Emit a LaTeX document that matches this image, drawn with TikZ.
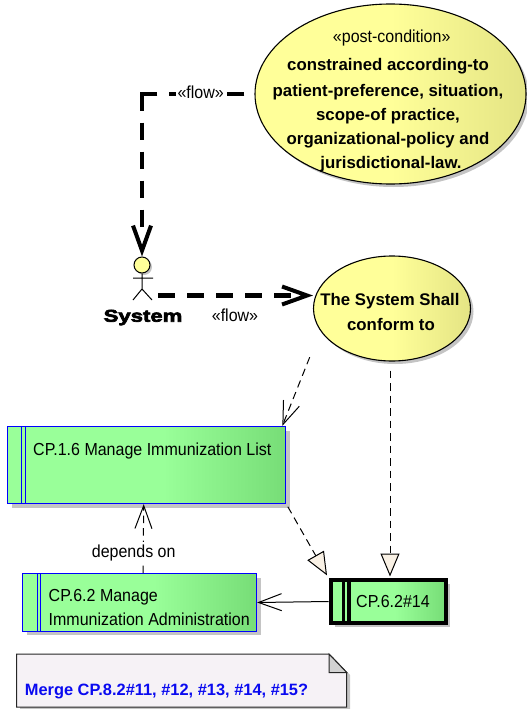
\documentclass[tikz,border=0pt]{standalone}
\usepackage{fontspec}
\setmainfont{Liberation Sans}
\newfontfamily\heavyfont[FakeBold=4,FakeStretch=1.3]{Liberation Sans Bold}
\newfontfamily\regfont[FakeStretch=0.92]{Liberation Sans}
\usetikzlibrary{arrows.meta,shapes.geometric,shadows,calc}
\definecolor{yA}{HTML}{FFFF99}
\definecolor{yB}{HTML}{E4E484}
\definecolor{gA}{HTML}{99FF99}
\definecolor{gB}{HTML}{77DD77}
\definecolor{shadowgray}{HTML}{C4C4C4}
\definecolor{tipfill}{HTML}{F9F1E5}
\definecolor{notefill}{HTML}{F6F2F6}
\definecolor{earfill}{HTML}{D2D2D2}
\definecolor{reqblue}{HTML}{0A0AF0}
\pgfdeclarehorizontalshading{yellowh}{100bp}{color(0bp)=(yA); color(50bp)=(yA); color(75bp)=(yB); color(100bp)=(yB)}
\pgfdeclarehorizontalshading{greenh}{100bp}{color(0bp)=(gA); color(53bp)=(gA); color(75bp)=(gB); color(100bp)=(gB)}
\tikzset{
  x=1pt,y=-1pt,
  softshadow/.style={general shadow={shadow xshift=#1,shadow yshift=-#1,fill=shadowgray}},
  usecase/.style={ellipse,draw=black,line width=1.1pt,shading=yellowh,inner sep=0pt,softshadow=3pt},
  reqbox/.style={rectangle,draw=blue,line width=1.3pt,shading=greenh,inner sep=0pt,softshadow=4pt},
  stripeblue/.style={draw=blue,line width=1.2pt},
  stripeblack/.style={draw=black,line width=3.4pt},
  txt/.style={inner sep=0pt,anchor=base,font=\fontsize{17.4}{17.4}\regfont},
  txtl/.style={inner sep=0pt,anchor=base west,font=\fontsize{17.4}{17.4}\regfont},
  btxt/.style={inner sep=0pt,anchor=base,font=\fontsize{16.8}{16.8}\selectfont\bfseries},
  flowline/.style={line width=4.4pt,dash pattern=on 17pt off 12pt},
  cornerflow/.style={line width=4.4pt,dash pattern=on 17pt off 12pt on 17pt off 12pt on 17pt off 12pt on 32pt off 12pt on 17pt off 12pt on 17pt off 12pt on 17pt off 12pt on 17pt off 60pt},
  thinflow/.style={line width=1pt,dash pattern=on 7.5pt off 5pt},
  vthick/.style={-{Straight Barb[length=25pt,width=18pt,line width=4pt]}},
  vthin/.style={-{Straight Barb[length=23pt,width=17pt,line width=1pt]}},
  hollow/.style={-{Triangle[length=23pt,width=19pt,fill=tipfill,line width=1pt]}},
}
\begin{document}
\begin{tikzpicture}
\useasboundingbox (0,0) rectangle (527,709);

% use cases
\node[usecase,minimum width=271pt,minimum height=180pt] (e1) at (390.5,94) {};
\node[usecase,minimum width=157pt,minimum height=105pt] (e2) at (392,308.5) {};

% requirement boxes
\node[reqbox,minimum width=278pt,minimum height=77pt] (r1) at (146.7,465) {};
\draw[stripeblue] ([xshift=14.5pt]r1.north west) -- ([xshift=14.5pt]r1.south west);
\draw[stripeblue] ([xshift=18.5pt]r1.north west) -- ([xshift=18.5pt]r1.south west);
\node[reqbox,minimum width=234pt,minimum height=57.5pt] (r2) at (139.5,602.5) {};
\draw[stripeblue] ([xshift=15.3pt]r2.north west) -- ([xshift=15.3pt]r2.south west);
\draw[stripeblue] ([xshift=18.7pt]r2.north west) -- ([xshift=18.7pt]r2.south west);
\node[rectangle,draw=black,line width=4pt,shading=greenh,inner sep=0pt,softshadow=4pt,minimum width=115pt,minimum height=43pt] (r3) at (388,601.5) {};
\draw[stripeblack] ([xshift=14.8pt]r3.north west) -- ([xshift=14.8pt]r3.south west);
\draw[stripeblack] ([xshift=20.5pt]r3.north west) -- ([xshift=20.5pt]r3.south west);

% note
\fill[shadowgray] (20,657) -- (333,657) -- (350,675) -- (350,710) -- (20,710) -- cycle;
\draw[fill=notefill,line width=1pt,draw=black!85] (16.7,654) -- (329,654) -- (346.7,672.5) -- (346.7,707) -- (16.7,707) -- cycle;
\draw[fill=earfill,line width=1pt,draw=black!85] (329,654) -- (346.7,672.5) -- (329,672.5) -- cycle;
\node[inner sep=0pt,anchor=base west,text=reqblue,font=\fontsize{16.4}{16.4}\selectfont\bfseries] (notetext) at (24.7,695.7) {Merge CP.8.2\#11, \#12, \#13, \#14, \#15?};

% actor
\fill[shadowgray] (144,267) circle[radius=8pt];
\node[circle,draw=black,line width=1pt,fill=yA,minimum size=16pt,inner sep=0pt] (actor) at (142,265) {};
\node[inner sep=0pt,minimum width=28pt,minimum height=1pt] (actorbody) at (144,295.5) {};
\draw[line width=1pt] (actor.south) -- (142,289) -- (133,300) (142,289) -- (152,300) (133,278) -- (153,278);
\node[inner sep=0pt,anchor=base,font=\fontsize{17}{17}\heavyfont] (systemlabel) at (143,321.7) {System};

% connectors
\draw[cornerflow,vthick,shorten <=10pt,line join=miter] (e1.west) -| (actor.north);
\draw[flowline,vthick] (actorbody.east) -- (e2.west |- actorbody.east);
\draw[thinflow,vthin,shorten <=30pt] ([xshift=1.5pt]e2.196) -- ([xshift=-4pt]r1.north east);
\draw[thinflow,hollow,shorten <=9pt,shorten >=1.5pt] ([xshift=-2pt]e2.south) -- ([xshift=2pt]r3.north);
\draw[thinflow,hollow,shorten <=3pt,shorten >=3pt] (r1.south east) -- (r3.north west);
\draw[thinflow,vthin] ([xshift=3.5pt]r2.north) -- ([xshift=-3pt]r1.south);
\draw[line width=1pt,vthin] (r3.west) -- (r2.east);

% labels
\node[txt,fill=white,inner xsep=2pt,inner ysep=2pt] (flowa) at (200.7,98) {«flow»};
\node[txt] (flowb) at (235,321.7) {«flow»};
\node[txt,fill=white,inner xsep=0pt,inner ysep=2pt] (dep) at (133.7,557) {depends on};

\node[txt] (post) at (391.7,42.7) {«post-condition»};
\node[btxt] (l1) at (388,70.7) {constrained according-to};
\node[btxt] (l2) at (388,96) {patient-preference, situation,};
\node[btxt] (l3) at (388,120) {scope-of practice,};
\node[btxt] (l4) at (388,144) {organizational-policy and};
\node[btxt] (l5) at (391,168) {jurisdictional-law.};
\node[btxt] (s1) at (390,305.7) {The System Shall};
\node[btxt] (s2) at (391,330) {conform to};

\node[txtl] (t1) at (33,455) {CP.1.6 Manage Immunization List};
\node[txtl] (t2a) at (48.5,601.7) {CP.6.2 Manage};
\node[txtl] (t2b) at (48.5,625.7) {Immunization Administration};
\node[txtl] (t3) at (356,607) {CP.6.2\#14};
\end{tikzpicture}
\end{document}
